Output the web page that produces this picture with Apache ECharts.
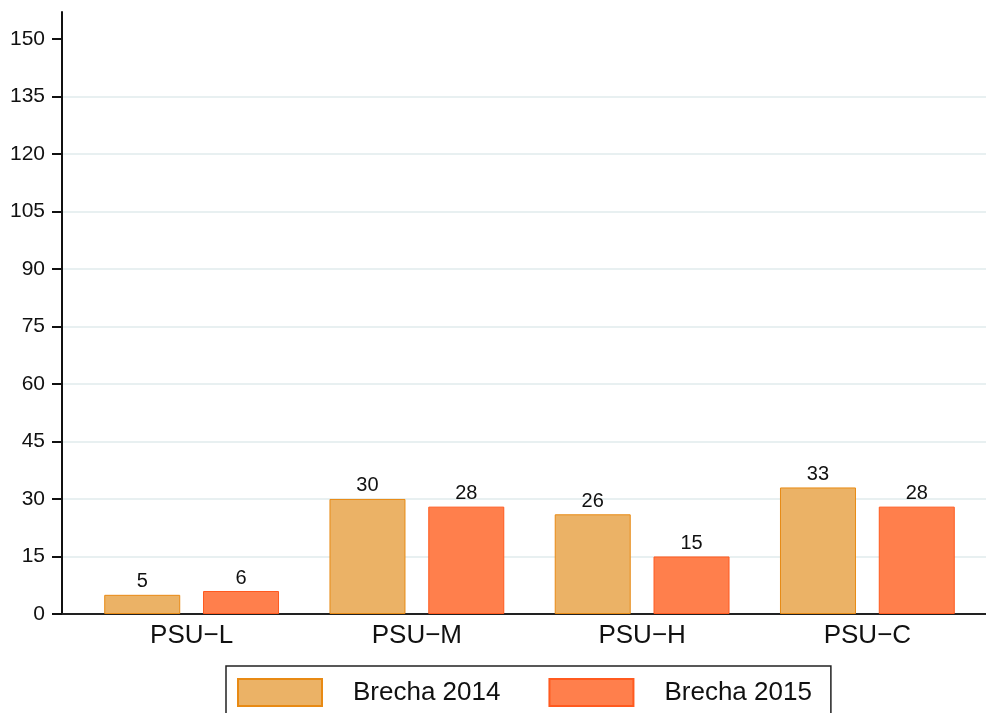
<!DOCTYPE html>
<html>
<head>
<meta charset="utf-8">
<script src="https://cdn.jsdelivr.net/npm/echarts@6/dist/echarts.min.js"></script>
<style>
html, body { margin: 0; padding: 0; background: #fff; }
#chart { width: 986px; height: 713px; }
</style>
</head>
<body>
<div id="chart"></div>
<script>
const categories = ['PSU−L', 'PSU−M', 'PSU−H', 'PSU−C'];
const brecha2014 = [5, 30, 26, 33];
const brecha2015 = [6, 28, 15, 28];
const yTicks = [0, 15, 30, 45, 60, 75, 90, 105, 120, 135, 150];
const yMax = 157;

const font = "'Liberation Sans', Arial, sans-serif";
const guide = '#e8f0f1';
const chart = echarts.init(document.getElementById('chart'));

chart.setOption({
    animation: false,
    textStyle: { fontFamily: font },
    legend: {
        left: 226,
        top: 666,
        orient: 'horizontal',
        itemWidth: 84,
        itemHeight: 27,
        itemGap: 48,
        padding: [12, 19, 12, 11],
        borderColor: '#222',
        borderWidth: 1.5,
        borderRadius: 0,
        icon: 'rect',
        textStyle: { fontSize: 26, color: '#111', fontFamily: font, padding: [0, 0, 0, 26] },
        data: ['Brecha 2014', 'Brecha 2015']
    },
    grid: [
        // axis frame (y axis sits a bit left of the bars)
        { left: 62, right: 0, top: 12, bottom: 99 },
        // bars
        { left: 79, right: 6, top: 12, bottom: 99 }
    ],
    xAxis: [
        {
            gridIndex: 0,
            type: 'value',
            min: 0,
            max: 1,
            axisLine: { show: true, lineStyle: { color: '#222', width: 2 } },
            axisTick: { show: false },
            axisLabel: { show: false },
            splitLine: { show: false }
        },
        {
            gridIndex: 1,
            type: 'category',
            data: categories,
            axisLine: { show: false },
            axisTick: { show: false },
            axisLabel: { fontSize: 26, color: '#111', margin: 9, fontFamily: font }
        }
    ],
    yAxis: [
        {
            gridIndex: 0,
            type: 'value',
            min: 0,
            max: yMax,
            axisLine: { show: true, lineStyle: { color: '#111', width: 2 } },
            axisTick: { show: true, length: 10, customValues: yTicks, lineStyle: { color: '#111', width: 2 } },
            axisLabel: { fontSize: 21, color: '#111', margin: 17, customValues: yTicks, fontFamily: font },
            splitLine: { show: false }
        },
        {
            gridIndex: 1,
            type: 'value',
            min: 0,
            max: yMax,
            axisLine: { show: false },
            axisTick: { show: false },
            axisLabel: { show: false },
            splitLine: { show: false }
        },
        {
            // light horizontal guides, 15..135 only
            gridIndex: 0,
            type: 'value',
            min: 0,
            max: yMax,
            interval: 15,
            axisLine: { show: false },
            axisTick: { show: false },
            axisLabel: { show: false },
            splitLine: {
                show: true,
                showMinLine: false,
                showMaxLine: false,
                lineStyle: {
                    color: [guide, guide, guide, guide, guide, guide, guide, guide, guide, 'rgba(0,0,0,0)'],
                    width: 2
                }
            }
        }
    ],
    series: [
        {
            name: 'Brecha 2014',
            type: 'bar',
            xAxisIndex: 1,
            yAxisIndex: 1,
            data: brecha2014,
            barWidth: 76,
            barGap: '30%',
            itemStyle: { color: '#ebb266', borderColor: '#e88a14', borderWidth: 1 },
            label: { show: true, position: 'top', distance: 3, fontSize: 20, color: '#111', fontFamily: font }
        },
        {
            name: 'Brecha 2015',
            type: 'bar',
            xAxisIndex: 1,
            yAxisIndex: 1,
            data: brecha2015,
            barWidth: 76,
            barGap: '30%',
            itemStyle: { color: '#ff7f4c', borderColor: '#ff5a1f', borderWidth: 1 },
            label: { show: true, position: 'top', distance: 3, fontSize: 20, color: '#111', fontFamily: font }
        }
    ]
});

window.addEventListener('resize', function () {
    chart.resize();
});
</script>
</body>
</html>
